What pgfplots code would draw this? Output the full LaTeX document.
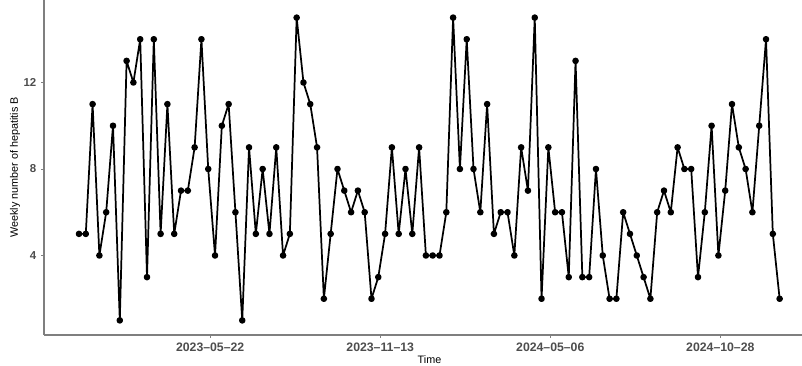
\documentclass[border=0pt]{standalone}
\usepackage{pgfplots}
\pgfplotsset{compat=1.18}
\usepackage{pgfplotstable}
\usepackage{fontspec}
\setmainfont{Liberation Sans}
\definecolor{tickgray}{HTML}{4D4D4D}
\definecolor{axgray}{HTML}{7F7F7F}
\pgfplotstableread{
week count
1 5
2 5
3 11
4 4
5 6
6 10
7 1
8 13
9 12
10 14
11 3
12 14
13 5
14 11
15 5
16 7
17 7
18 9
19 14
20 8
21 4
22 10
23 11
24 6
25 1
26 9
27 5
28 8
29 5
30 9
31 4
32 5
33 15
34 12
35 11
36 9
37 2
38 5
39 8
40 7
41 6
42 7
43 6
44 2
45 3
46 5
47 9
48 5
49 8
50 5
51 9
52 4
53 4
54 4
55 6
56 15
57 8
58 14
59 8
60 6
61 11
62 5
63 6
64 6
65 4
66 9
67 7
68 15
69 2
70 9
71 6
72 6
73 3
74 13
75 3
76 3
77 8
78 4
79 2
80 2
81 6
82 5
83 4
84 3
85 2
86 6
87 7
88 6
89 9
90 8
91 8
92 3
93 6
94 10
95 4
96 7
97 11
98 9
99 8
100 6
101 10
102 14
103 5
104 2
}\hepb
\begin{document}
\begin{tikzpicture}
\begin{axis}[
  at={(0pt,0pt)}, anchor=south west,
  scale only axis,
  width=568.5pt, height=251.25pt,
  xmin=-4.143, xmax=107.29,
  ymin=0.324, ymax=15.815,
  axis x line*=bottom, axis y line*=left,
  axis line style={axgray, line width=1pt, -},
  xtick={20.286,45.286,70.286,95.286},
  xticklabels={2023–05–22,2023–11–13,2024–05–06,2024–10–28},
  ytick={4,8,12},
  tick style={axgray, line width=0.6pt},
  tick align=outside,
  major tick length=2.2pt,
  x tick label style={font=\fontsize{9.2}{10}\selectfont\bfseries, text=tickgray, yshift=-0.5pt},
  y tick label style={font=\fontsize{8.6}{10}\selectfont\bfseries, text=tickgray},
  /pgf/number format/assume math mode=true,
  xlabel={Time},
  ylabel={Weekly number of hepatitis B},
  every axis x label/.style={at={(axis description cs:0.5,0)}, anchor=north, yshift=-12pt, xshift=4.9pt, font=\fontsize{8.1}{10}\selectfont},
  every axis y label/.style={at={(axis description cs:-0.0383,0.5)}, rotate=90, anchor=center, font=\fontsize{8.1}{10}\selectfont},
  clip=false,
]
\addplot[black, line width=1.3pt, line join=round, mark=*, mark size=1.8pt, mark options={solid, fill=black}] table[x=week, y=count] {\hepb};
\end{axis}
\pgfresetboundingbox
\useasboundingbox (-33pt,-23.25pt) rectangle (568.5pt,251.25pt);
\end{tikzpicture}
\end{document}
